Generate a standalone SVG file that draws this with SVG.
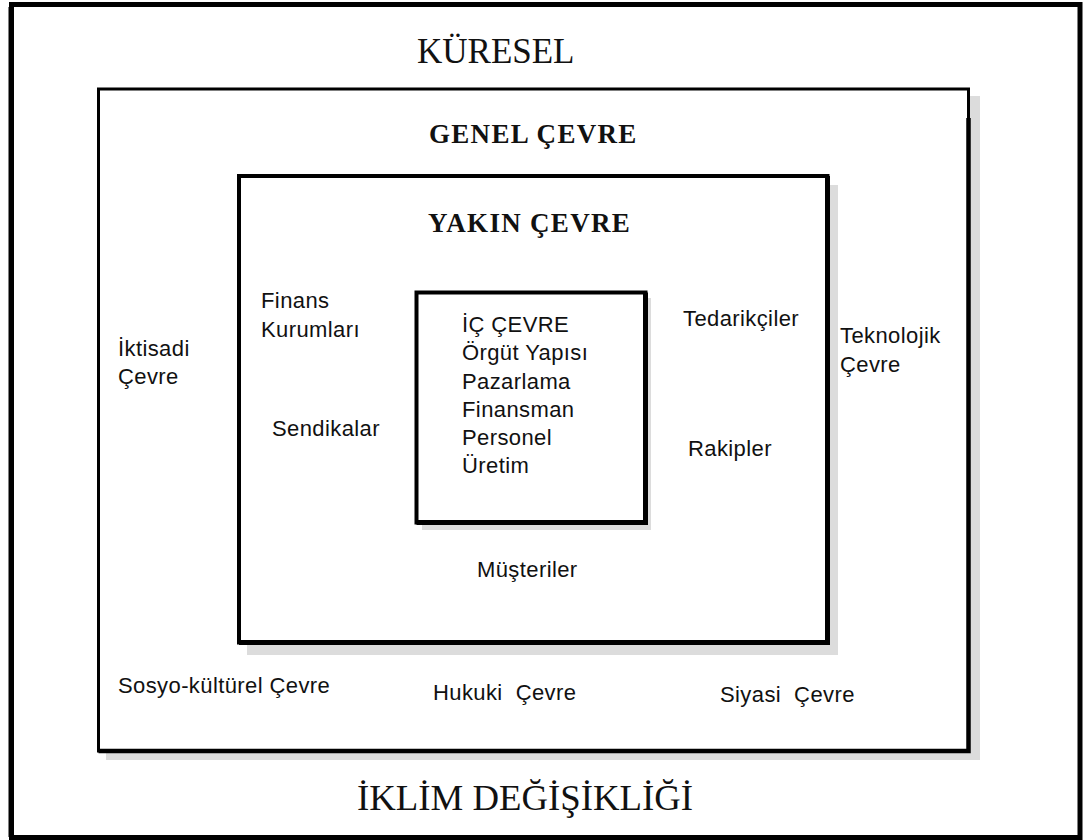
<svg xmlns="http://www.w3.org/2000/svg" width="1084" height="840" viewBox="0 0 1084 840">
  <style>
    .frame { fill: none; stroke: #000; }
    .shadow { fill: #dcdcdc; }
    .paper { fill: #fff; }
    .title { font-family: "Liberation Serif", "Times New Roman", serif; fill: #111; }
    .big { font-size: 35px; }
    .head { font-size: 27px; font-weight: bold; letter-spacing: 1.3px; }
    .lbl { font-family: "Liberation Sans", Arial, sans-serif; font-size: 22px; letter-spacing: 0.4px; fill: #111; }
  </style>

  <rect x="0" y="0" width="1084" height="840" fill="#fff"/>

  <!-- outermost frame: global environment -->
  <g id="kuresel">
    <path class="frame" stroke-width="5" d="M11.5 4.5 H1080 V837.5 H11.5 Z"/>
    <path class="frame" stroke-width="2" d="M9.5 7 V837"/>
    <text class="title big" x="417" y="63">KÜRESEL</text>
    <text class="title big" x="357" y="810" textLength="336" lengthAdjust="spacingAndGlyphs">İKLİM DEĞİŞİKLİĞİ</text>
  </g>

  <!-- general environment box -->
  <g id="genel-cevre">
    <rect class="shadow" x="106" y="96" width="874" height="664"/>
    <rect class="paper" x="98.5" y="89" width="870" height="662"/>
    <rect class="frame" stroke-width="3" x="98.5" y="89" width="870" height="662"/>
    <path class="frame" stroke-width="4.5" d="M968.5 118 V751 H98.5"/>
    <text class="title head" x="429" y="143">GENEL ÇEVRE</text>
    <text class="lbl" x="118" y="356">İktisadi</text>
    <text class="lbl" x="118" y="384">Çevre</text>
    <text class="lbl" x="840" y="343">Teknolojik</text>
    <text class="lbl" x="840" y="372">Çevre</text>
    <text class="lbl" x="118" y="693">Sosyo-kültürel Çevre</text>
    <text class="lbl" x="433" y="700" xml:space="preserve">Hukuki  Çevre</text>
    <text class="lbl" x="720" y="702" xml:space="preserve">Siyasi  Çevre</text>
  </g>

  <!-- task environment box -->
  <g id="yakin-cevre">
    <rect class="shadow" x="247" y="185" width="591" height="470"/>
    <rect class="paper" x="239" y="176" width="588.5" height="466.5"/>
    <rect class="frame" stroke-width="4" x="239" y="176" width="588.5" height="466.5"/>
    <path class="frame" stroke-width="5" d="M827.5 176 V642.5 H239"/>
    <text class="title head" x="428" y="232">YAKIN ÇEVRE</text>
    <text class="lbl" x="261" y="308">Finans</text>
    <text class="lbl" x="261" y="337">Kurumları</text>
    <text class="lbl" x="272" y="436">Sendikalar</text>
    <text class="lbl" x="683" y="326">Tedarikçiler</text>
    <text class="lbl" x="688" y="456">Rakipler</text>
    <text class="lbl" x="477" y="577">Müşteriler</text>
  </g>

  <!-- internal environment box -->
  <g id="ic-cevre">
    <rect class="shadow" x="422" y="298" width="229" height="232"/>
    <rect class="paper" x="416.5" y="292.5" width="229" height="230"/>
    <rect class="frame" stroke-width="4" x="416.5" y="292.5" width="229" height="230"/>
    <path class="frame" stroke-width="5" d="M645.5 292.5 V522.5 H416.5"/>
    <text class="lbl" x="462" y="332">İÇ ÇEVRE</text>
    <text class="lbl" x="462" y="360">Örgüt Yapısı</text>
    <text class="lbl" x="462" y="389">Pazarlama</text>
    <text class="lbl" x="462" y="417">Finansman</text>
    <text class="lbl" x="462" y="445">Personel</text>
    <text class="lbl" x="462" y="473">Üretim</text>
  </g>
</svg>
